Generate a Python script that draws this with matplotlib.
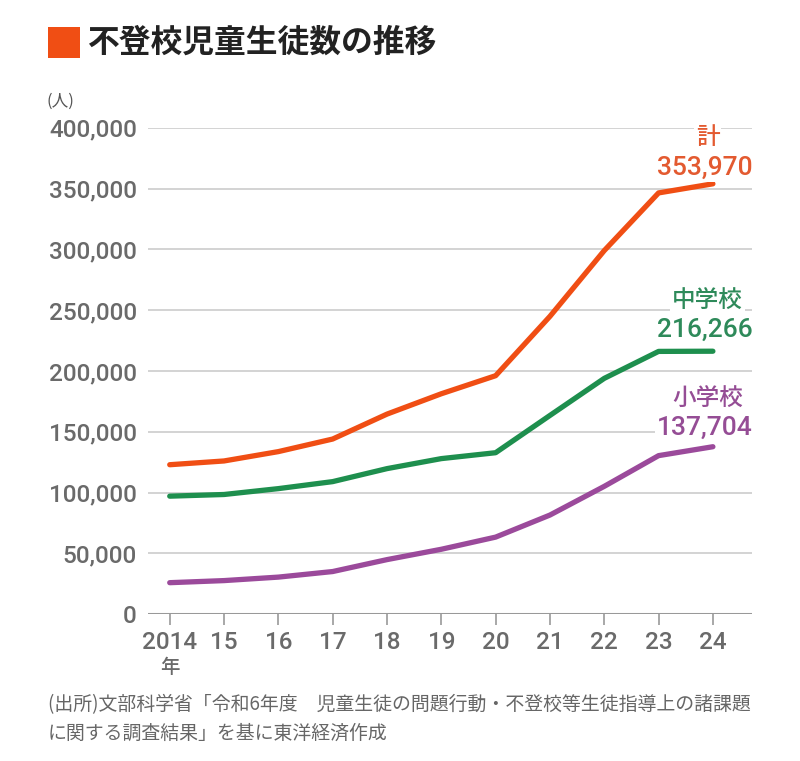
import matplotlib.pyplot as plt
from matplotlib.patches import Rectangle

plt.rcParams['font.family'] = ['Noto Sans CJK JP', 'DejaVu Sans']

years = [2014, 2015, 2016, 2017, 2018, 2019, 2020, 2021, 2022, 2023, 2024]
year_labels = ['2014', '15', '16', '17', '18', '19', '20', '21', '22', '23', '24']
total = [122897, 125991, 133683, 144031, 164528, 181272, 196127, 244940, 299048, 346482, 353970]
junior = [97033, 98408, 103235, 108999, 119687, 127922, 132777, 163442, 193936, 216112, 216266]
elementary = [25864, 27583, 30448, 35032, 44841, 53350, 63350, 81498, 105112, 130370, 137704]
y_ticks = [0, 50000, 100000, 150000, 200000, 250000, 300000, 350000, 400000]

c_total = '#f04e14'
c_junior = '#1e8f4e'
c_elem = '#9b4a9b'
num_font = ['Roboto', 'DejaVu Sans']

fig = plt.figure(figsize=(8, 7.61), dpi=100)
ax = fig.add_axes([0.185, 0.193, 0.755, 0.639])

for y in y_ticks[1:]:
    ax.axhline(y, color='#cccccc', lw=1.2, zorder=1)
ax.axhline(0, color='#999999', lw=2.2, zorder=1)

ax.plot(years, total, color=c_total, lw=3.8, solid_capstyle='round', zorder=3)
ax.plot(years, junior, color=c_junior, lw=3.8, solid_capstyle='round', zorder=3)
ax.plot(years, elementary, color=c_elem, lw=3.8, solid_capstyle='round', zorder=3)

ax.set_xlim(2013.6, 2024.72)
ax.set_ylim(0, 400000)
ax.set_yticks(y_ticks)
ax.set_yticklabels([f'{v:,}' for v in y_ticks], family=num_font, fontweight='medium',
                   fontsize=17.5, color='#6a6a6a')
ax.set_xticks(years)
ax.set_xticklabels(year_labels, family=num_font, fontweight='medium',
                   fontsize=17.5, color='#6a6a6a')
ax.tick_params(axis='y', length=0, pad=8)
ax.tick_params(axis='x', length=8, width=1.2, color='#999999', pad=4, direction='out')
for s in ax.spines.values():
    s.set_visible(False)

ax.text(2014, -36000, '年', ha='center', va='top', fontsize=14, fontweight='medium', color='#6a6a6a')

box = dict(facecolor='white', edgecolor='none', pad=1.5)
lab = dict(ha='center', va='center', bbox=box, zorder=4, fontweight='medium')
ax.text(2023.9, 392000, '計', fontsize=17, color='#e35a30', **lab)
ax.text(2023.85, 367000, f'{total[-1]:,}', fontsize=19, color='#e35a30', family=num_font, **lab)
ax.text(2023.9, 257000, '中学校', fontsize=17, color='#2e8a5a', **lab)
ax.text(2023.85, 234000, f'{junior[-1]:,}', fontsize=19, color='#2e8a5a', family=num_font, **lab)
ax.text(2023.9, 177000, '小学校', fontsize=17, color='#954d95', **lab)
ax.text(2023.85, 153000, f'{elementary[-1]:,}', fontsize=19, color='#954d95', family=num_font, **lab)

# title
fig.patches.append(Rectangle((48 / 800, 1 - 58 / 761), 32 / 800, 31 / 761,
                             transform=fig.transFigure, facecolor='#f04e14', edgecolor='none'))
fig.text(88 / 800, 1 - 43 / 761, '不登校児童生徒数の推移', fontsize=22.9, fontweight='bold',
         color='#222222', va='center', ha='left')
fig.text(46 / 800, 1 - 101 / 761, '(人)', fontsize=12, color='#555555', va='center', ha='left')

fig.text(48 / 800, 1 - 705 / 761,
         '(出所)文部科学省「令和6年度　児童生徒の問題行動・不登校等生徒指導上の諸課題',
         fontsize=13.6, color='#666666', va='center', ha='left')
fig.text(48 / 800, 1 - 733 / 761, 'に関する調査結果」を基に東洋経済作成',
         fontsize=13.6, color='#666666', va='center', ha='left')

fig.savefig('out.png', dpi=100)
